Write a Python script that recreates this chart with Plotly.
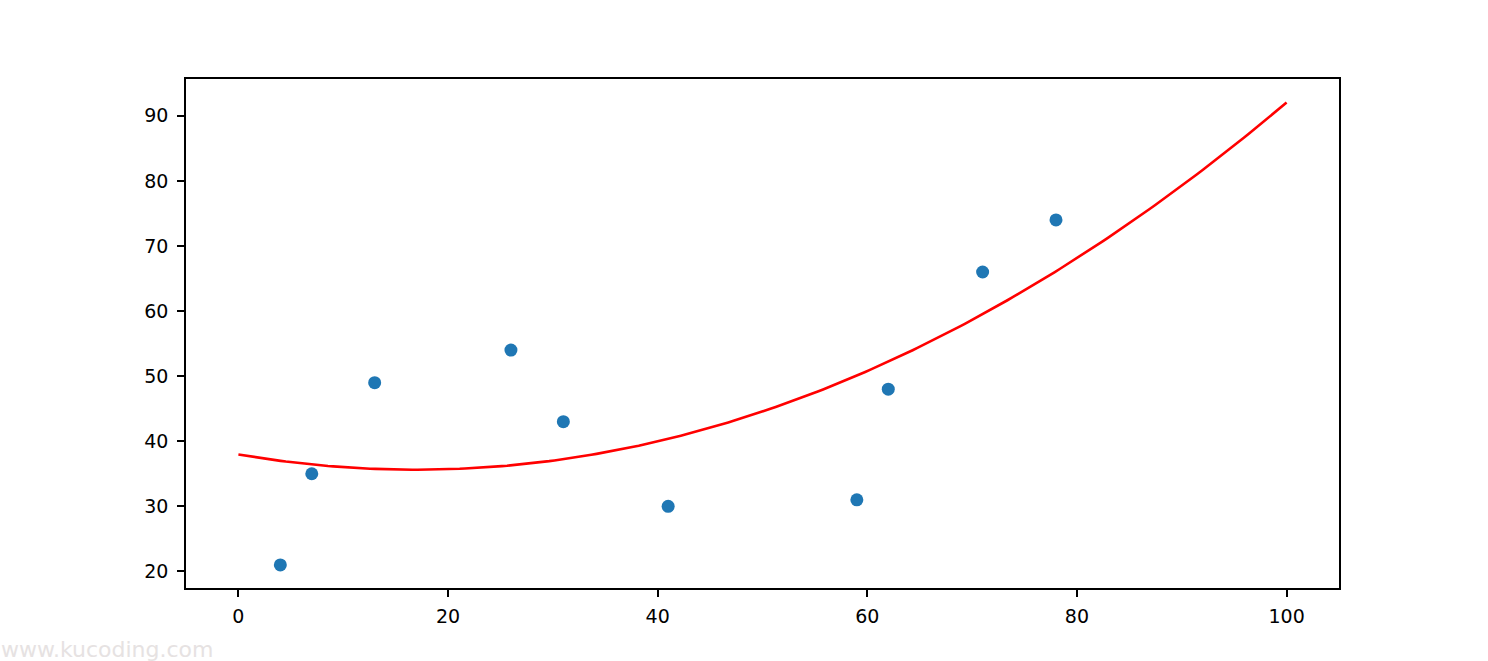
import numpy as np
import plotly.graph_objects as go

# Data points
x_pts = [4, 7, 13, 26, 31, 41, 59, 62, 71, 78]
y_pts = [21, 35, 49, 54, 43, 30, 31, 48, 66, 74]

# Polynomial (degree 2) regression line, as in the original
coeffs = np.polyfit(x_pts, y_pts, 2)
model = np.poly1d(coeffs)
x_line = np.linspace(0, 100, 200)
y_line = model(x_line)

x_ticks = [0, 20, 40, 60, 80, 100]
y_ticks = [20, 30, 40, 50, 60, 70, 80, 90]

fig = go.Figure()
fig.add_trace(go.Scatter(
    x=x_pts, y=y_pts, mode="markers",
    marker=dict(color="#1f77b4", size=13, line=dict(width=0)),
    showlegend=False, hoverinfo="skip",
))
fig.add_trace(go.Scatter(
    x=x_line, y=y_line, mode="lines",
    line=dict(color="red", width=2.6),
    showlegend=False, hoverinfo="skip",
))

axis_common = dict(
    showline=True, linecolor="black", linewidth=1.5, mirror=True,
    ticks="outside", ticklen=7, tickwidth=1.5, tickcolor="black",
    showgrid=False, zeroline=False,
    tickfont=dict(family="DejaVu Sans", size=19, color="black"),
)

fig.update_layout(
    width=1488, height=661,
    margin=dict(l=186, r=149, t=79, b=73),
    paper_bgcolor="white", plot_bgcolor="white",
    xaxis=dict(range=[-5, 105], tickvals=x_ticks, ticktext=[str(v) for v in x_ticks],
               ticklabelstandoff=3, **axis_common),
    yaxis=dict(range=[17.45, 95.65], tickvals=y_ticks, ticktext=[str(v) for v in y_ticks],
               ticklabelstandoff=5, **axis_common),
    annotations=[dict(
        text="www.kucoding.com", xref="paper", yref="paper",
        x=-186/1153, y=(588-649)/509, xanchor="left", yanchor="middle",
        showarrow=False, borderpad=0,
        font=dict(family="DejaVu Sans", size=22, color="#e6e2e2"),
    )],
)

fig.write_html("out.html", config={"displayModeBar": False},
               post_script="document.body.style.margin='0';document.body.style.overflow='hidden';")
